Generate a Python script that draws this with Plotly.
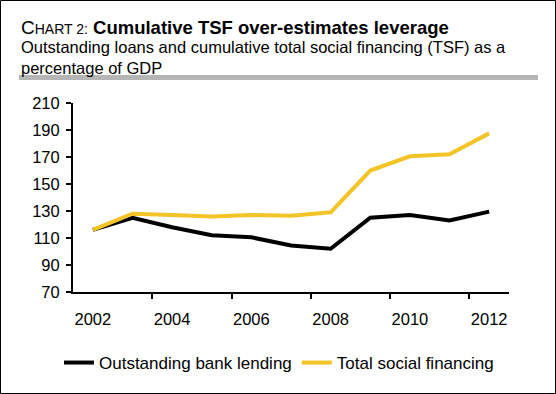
import plotly.graph_objects as go

years = [2002, 2003, 2004, 2005, 2006, 2007, 2008, 2009, 2010, 2011, 2012]
bank_lending = [116, 125, 118, 112, 110.5, 104.5, 102, 125, 127, 123, 129.5]
tsf = [116, 128, 127, 126, 127, 126.5, 129, 160, 170.5, 172, 187.5]
x_labels = [2002, 2004, 2006, 2008, 2010, 2012]
y_ticks = [70, 90, 110, 130, 150, 170, 190, 210]

FONT = "Arial"

fig = go.Figure()
fig.add_trace(go.Scatter(x=years, y=bank_lending, mode="lines", name="Outstanding bank lending",
                         line=dict(color="#000000", width=4)))
fig.add_trace(go.Scatter(x=years, y=tsf, mode="lines", name="Total social financing",
                         line=dict(color="#F2C428", width=4)))

L, R, T, B = 73, 47, 103, 102
W, H = 556, 394
pw, ph = W - L - R, H - T - B

def px_x(px):
    return (px - L) / pw

def px_y(py):
    return (H - B - py) / ph

fig.update_layout(
    width=W, height=H,
    margin=dict(l=L, r=R, t=T, b=B),
    paper_bgcolor="white", plot_bgcolor="white",
    font=dict(family=FONT, size=16.5, color="#000000"),
    showlegend=True,
    legend=dict(orientation="h", x=px_x(279), xanchor="center", y=px_y(363), yanchor="middle",
                font=dict(size=17), itemwidth=30, tracegroupgap=0, bgcolor="rgba(0,0,0,0)"),
    xaxis=dict(range=[2001.5, 2012.5], tickvals=x_labels, ticks="", showgrid=False, zeroline=False,
               showline=True, linecolor="black", linewidth=2,
               tickfont=dict(size=16.5), ticklabelstandoff=11,
               minor=dict(tickvals=[2003.5, 2005.5, 2007.5, 2009.5, 2011.5], ticks="outside",
                          ticklen=5, tickwidth=2, tickcolor="black", showgrid=False)),
    yaxis=dict(range=[70, 210], tickvals=y_ticks, ticks="outside", ticklen=5, tickwidth=2,
               tickcolor="black", showgrid=False, zeroline=False, ticklabelstandoff=3,
               showline=True, linecolor="black", linewidth=2, tickfont=dict(size=16.5)),
)

# outer border
fig.add_shape(type="rect", xref="paper", yref="paper",
              x0=px_x(0.5), x1=px_x(555.5), y0=px_y(393.5), y1=px_y(0.5),
              line=dict(color="black", width=1), fillcolor="rgba(0,0,0,0)", layer="below")
# gray rule under the title
fig.add_shape(type="line", xref="paper", yref="paper",
              x0=px_x(19), x1=px_x(538), y0=px_y(77.5), y1=px_y(77.5),
              line=dict(color="#b5b5b5", width=5))

fig.add_annotation(xref="paper", yref="paper", x=px_x(19), y=px_y(15), xanchor="left", yanchor="top",
                   showarrow=False, align="left",
                   text="<span style='font-size:19px'>C</span><span style='font-size:14px'>HART 2:</span> "
                        "<b>Cumulative TSF over-estimates leverage</b>",
                   font=dict(family=FONT, size=18.5, color="black"))
fig.add_annotation(xref="paper", yref="paper", x=px_x(19), y=px_y(36), xanchor="left", yanchor="top",
                   showarrow=False, align="left",
                   text="Outstanding loans and cumulative total social financing (TSF) as a<br>percentage of GDP",
                   font=dict(family=FONT, size=16.5, color="black"))

fig.write_html("out.html", config={"displayModeBar": False},
               post_script="document.body.style.margin='0';document.body.style.overflow='hidden';")
